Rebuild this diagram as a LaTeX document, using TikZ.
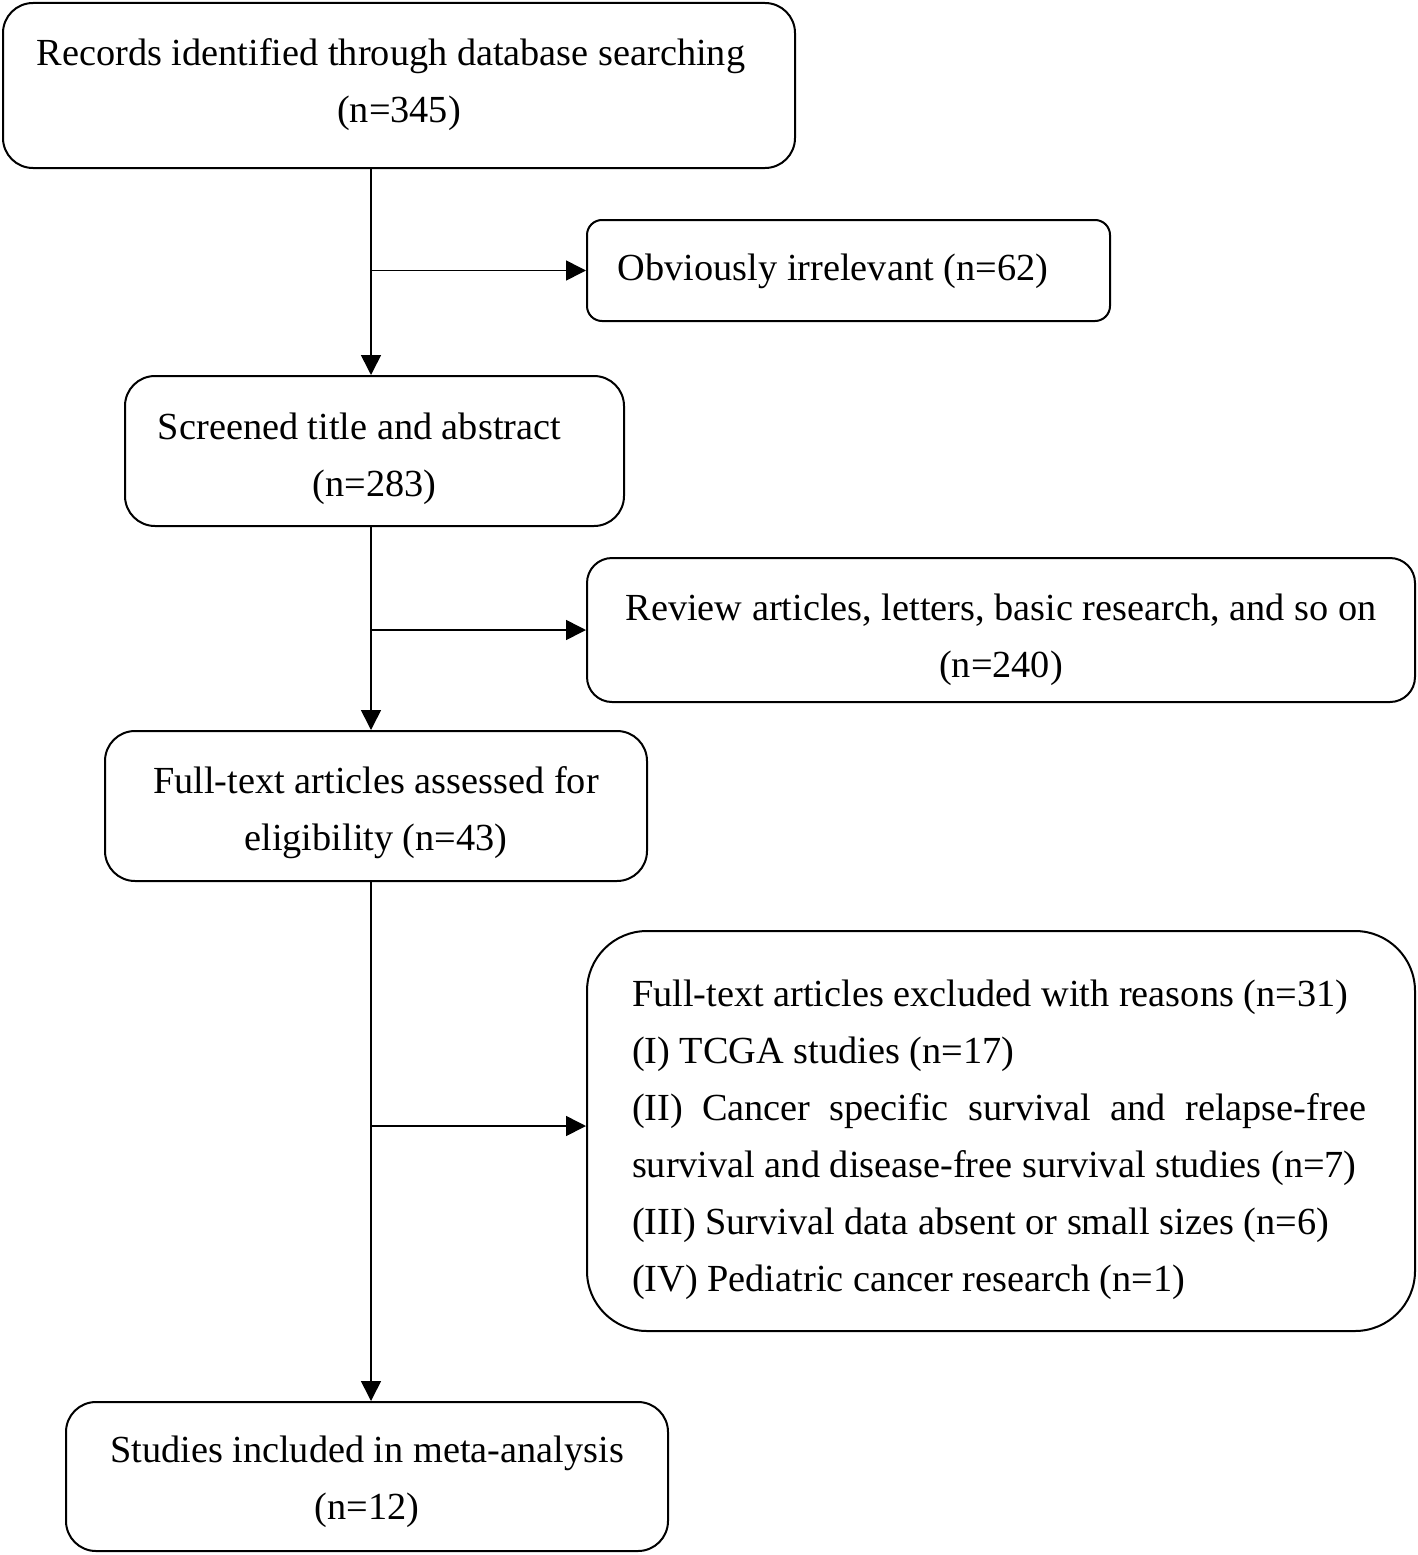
\documentclass[tikz,border=0pt]{standalone}
\usepackage{fontspec}
\setmainfont{Liberation Serif}
\usetikzlibrary{arrows.meta}
\begin{document}
\begin{tikzpicture}[x=1pt,y=-1pt,
  box/.style={draw, line width=2pt, rounded corners=#1, inner sep=0pt},
  box/.default=30pt,
  txt/.style={align=center, inner sep=0pt, font=\fontsize{38.3}{57}\selectfont},
  conn/.style={line width=1.6pt, -{Triangle[length=20pt,width=20pt]}}
]
\useasboundingbox (0,0) rectangle (1418,1555);
% boxes
\node[box, minimum width=792pt, minimum height=165pt] (b1) at (399,85.5) {};
\node[box=15pt, minimum width=523pt, minimum height=101pt] (obv) at (848.5,270.5) {};
\node[box, minimum width=499pt, minimum height=150pt] (scr) at (374.5,451) {};
\node[box=25pt, minimum width=828pt, minimum height=144pt] (rev) at (1001,630) {};
\node[box, minimum width=542pt, minimum height=150pt] (ft) at (376,806) {};
\node[box=60pt, minimum width=828pt, minimum height=400pt] (exc) at (1001,1131) {};
\node[box, minimum width=602pt, minimum height=149pt] (inc) at (367,1476.5) {};
% texts
\node[txt] (b1t) at (399,84.5)
  {Records identified through database searching\hspace*{16pt}\\(n=345)};
\node[txt] (obvt) at (833,271) {Obviously irrelevant (n=62)};
\node[txt] (scrt) at (374.5,458.5) {Screened title and abstract\hspace*{30pt}\\(n=283)};
\node[txt] (revt) at (1001,639.5)
  {Review articles, letters, basic research, and so on\\(n=240)};
\node[txt] (ftt) at (376,813) {Full-text articles assessed for\\eligibility (n=43)};
\node[txt, align=left] (exct) at (999,1139.5)
  {Full-text articles excluded with reasons (n=31)\\
   (I) TCGA studies (n=17)\\
   \makebox[734pt][s]{(II) Cancer specific survival and relapse-free}\\
   survival and disease-free survival studies (n=7)\\
   (III) Survival data absent or small sizes (n=6)\\
   (IV) Pediatric cancer research (n=1)\hspace*{170pt}};
\node[txt] (inct) at (367,1481.5) {Studies included in meta-analysis\\(n=12)};
% connectors
\coordinate (sp) at (371,0);
\draw[conn] (b1.south -| sp) -- (scr.north -| sp);
\draw[conn] (scr.south -| sp) -- (ft.north -| sp);
\draw[conn] (ft.south -| sp) -- (inc.north -| sp);
\draw[conn] (obv.west -| sp) -- (obv.west);
\draw[conn] (rev.west -| sp) -- (rev.west);
\draw[conn] ([yshift=5pt]exc.west -| sp) -- ([yshift=5pt]exc.west);
\end{tikzpicture}
\end{document}
